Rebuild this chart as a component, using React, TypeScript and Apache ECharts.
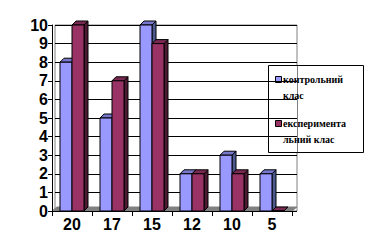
import React, { useEffect, useRef } from "react";
import * as echarts from "echarts";

const categories = ["20", "17", "15", "12", "10", "5"];
const controlValues = [8, 5, 10, 2, 3, 2];
const experimentalValues = [10, 7, 9, 2, 2, 0];
const seriesNames = ["контрольний клас", "експериментальний клас"];
const legendLabels = ["контрольний\nклас", "експеримента\nльний клас"];

const palette = [
  { front: "#9999FF", top: "#7777CC", side: "#4D5A8F" },
  { front: "#993366", top: "#7A2952", side: "#4D1A33" },
];

const makeRender = (side: number, colors: { front: string; top: string; side: string }) =>
  (params: any, api: any) => {
    const idx = api.value(0);
    const val = api.value(1);
    const top = api.coord([idx, val]);
    const base = api.coord([idx, 0]);
    const band = api.size([1, 0])[0];
    const w = band * 0.3;
    const x0 = side < 0 ? top[0] - w : top[0];
    const x1 = x0 + w;
    const y0 = top[1];
    const y1 = base[1];
    const dx = 4;
    const dy = -4;
    return {
      type: "group",
      children: [
        {
          type: "polygon",
          shape: { points: [[x1, y1], [x1, y0], [x1 + dx, y0 + dy], [x1 + dx, y1 + dy]] },
          style: { fill: colors.side, stroke: "#000", lineWidth: 1 },
        },
        {
          type: "polygon",
          shape: { points: [[x0, y0], [x1, y0], [x1 + dx, y0 + dy], [x0 + dx, y0 + dy]] },
          style: { fill: colors.top, stroke: "#000", lineWidth: 1 },
        },
        {
          type: "rect",
          shape: { x: x0, y: y0, width: w, height: Math.max(0, y1 - y0) },
          style: { fill: colors.front, stroke: "#000", lineWidth: 1 },
        },
      ],
    };
  };

export default function App() {
  const ref = useRef<HTMLDivElement>(null);
  useEffect(() => {
    if (!ref.current) return;
    const chart = echarts.init(ref.current, undefined, { renderer: "svg" });
    const axisFont = { fontFamily: "Liberation Sans", fontWeight: "bold" as const, fontSize: 16, color: "#000" };
    const legendFont = { fontFamily: "Liberation Serif", fontWeight: "bold", fontSize: 10, fill: "#000", lineHeight: 16 };
    chart.setOption({
      animation: false,
      backgroundColor: "#fff",
      grid: [
        { left: 52, right: 77, top: 25, bottom: 35 },
        { left: 55, right: 72, top: 25, bottom: 35, show: true, borderColor: "#808080", borderWidth: 1, backgroundColor: "#fff" },
      ],
      xAxis: [
        {
          type: "category",
          gridIndex: 0,
          data: categories,
          boundaryGap: true,
          axisLine: { show: true, lineStyle: { color: "#000", width: 1 } },
          axisTick: { show: true, length: 5, lineStyle: { color: "#000" } },
          axisLabel: { ...axisFont, margin: 5 },
          z: 5,
        },
        { type: "category", gridIndex: 1, data: categories, show: false },
      ],
      yAxis: [
        {
          type: "value",
          gridIndex: 0,
          min: 0,
          max: 10,
          interval: 1,
          axisLine: { show: true, lineStyle: { color: "#000", width: 1 } },
          axisTick: { show: true, length: 4, lineStyle: { color: "#000" } },
          axisLabel: { ...axisFont, margin: 4 },
          splitLine: { show: false },
          z: 5,
        },
        {
          type: "value",
          gridIndex: 1,
          min: 0,
          max: 10,
          interval: 1,
          axisLine: { show: false },
          axisTick: { show: false },
          axisLabel: { show: false },
          splitLine: { show: true, lineStyle: { color: "#000", width: 1 } },
        },
      ],
      graphic: [
        {
          type: "polygon",
          z: 1,
          shape: { points: [[52, 211], [292, 211], [297, 207], [57, 207]] },
          style: { fill: "#808080", stroke: "#808080" },
        },
        {
          type: "group",
          z: 10,
          children: [
            { type: "rect", shape: { x: 268.5, y: 65.5, width: 95, height: 87 }, style: { fill: "#fff", stroke: "#000", lineWidth: 1 } },
            { type: "line", shape: { x1: 297.5, y1: 66, x2: 297.5, y2: 152 }, style: { stroke: "#808080", lineWidth: 1 } },
            { type: "rect", shape: { x: 275.5, y: 76.5, width: 6, height: 6 }, style: { fill: palette[0].front, stroke: "#000", lineWidth: 1 } },
            { type: "text", x: 283, y: 71.5, style: { text: legendLabels[0], ...legendFont, verticalAlign: "top" } },
            { type: "rect", shape: { x: 275.5, y: 120.5, width: 6, height: 6 }, style: { fill: palette[1].front, stroke: "#000", lineWidth: 1 } },
            { type: "text", x: 283, y: 115.5, style: { text: legendLabels[1], ...legendFont, verticalAlign: "top" } },
          ],
        },
      ],
      series: [
        {
          type: "custom",
          name: seriesNames[0],
          xAxisIndex: 0,
          yAxisIndex: 0,
          z: 3,
          renderItem: makeRender(-1, palette[0]),
          data: controlValues.map((v, i) => [i, v]),
        },
        {
          type: "custom",
          name: seriesNames[1],
          xAxisIndex: 0,
          yAxisIndex: 0,
          z: 4,
          renderItem: makeRender(1, palette[1]),
          data: experimentalValues.map((v, i) => [i, v]),
        },
      ],
    });
    return () => chart.dispose();
  }, []);
  return (
    <div
      ref={ref}
      style={{ position: "fixed", left: 0, top: 0, width: 369, height: 246, background: "#fff" }}
    />
  );
}
